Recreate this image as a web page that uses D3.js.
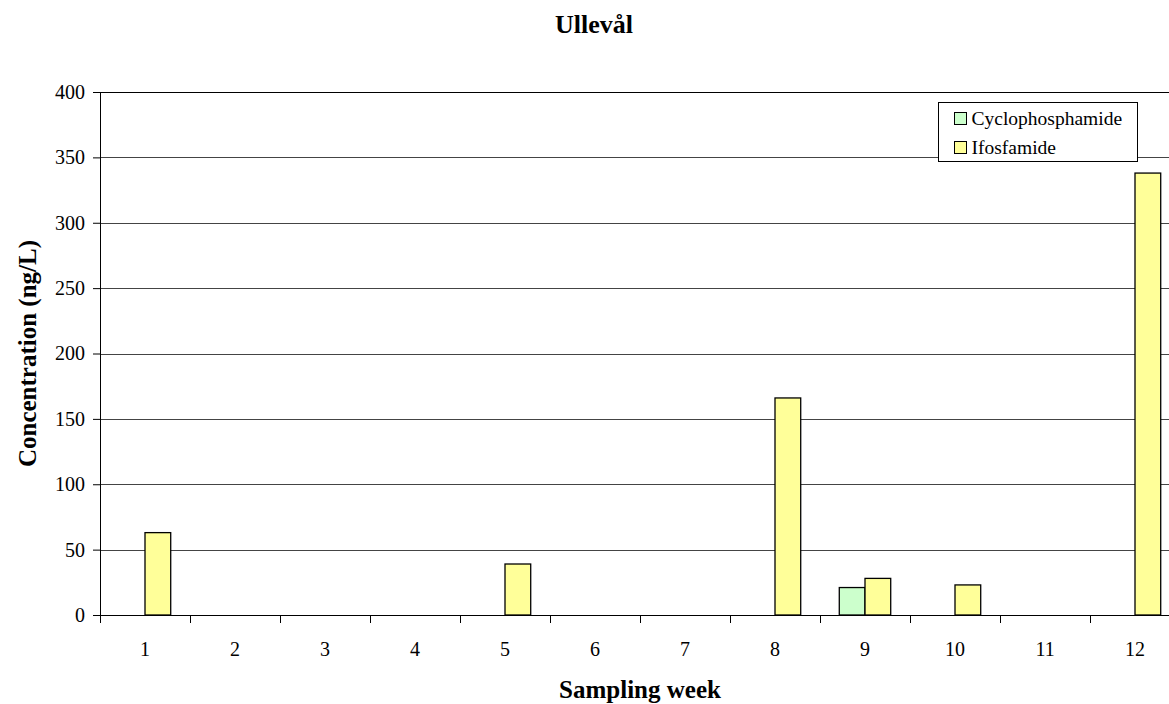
<!DOCTYPE html>
<html>
<head>
<meta charset="utf-8">
<script src="https://cdnjs.cloudflare.com/ajax/libs/d3/7.8.5/d3.min.js"></script>
<style>
  body { margin: 0; background: #fff; }
  svg { display: block; font-family: "Liberation Serif", "Times New Roman", serif; }
</style>
</head>
<body>
<script>
// data
var weeks = ['1', '2', '3', '4', '5', '6', '7', '8', '9', '10', '11', '12'];
var seriesNames = ['Cyclophosphamide', 'Ifosfamide'];
var cyclophosphamide = [0, 0, 0, 0, 0, 0, 0, 0, 21, 0, 0, 0];
var ifosfamide = [63, 0, 0, 0, 39, 0, 0, 166, 28, 23, 0, 338];
var yTicks = [0, 50, 100, 150, 200, 250, 300, 350, 400];
var colors = ['#ccffcc', '#ffff99'];

// set the dimensions and margins of the graph
var margin = {top: 92, right: -11, bottom: 89, left: 100},
    width = 1169 - margin.left - margin.right,
    height = 704 - margin.top - margin.bottom;

var svg = d3.select('body').append('svg')
    .attr('width', 1169)
    .attr('height', 704);

var g = svg.append('g')
    .attr('transform', 'translate(' + margin.left + ',' + margin.top + ')');

// scales
var x = d3.scaleBand().domain(weeks).range([0, width]);
var y = d3.scaleLinear().domain([0, 400]).range([height, 0]);
var barW = x.bandwidth() / 3.5;
var xs = d3.scaleBand().domain(seriesNames).range([x.bandwidth() / 2 - barW, x.bandwidth() / 2 + barW]);

// gridlines
g.append('g')
    .selectAll('line')
    .data(yTicks.slice(1))
    .join('line')
    .attr('x1', 0)
    .attr('x2', width)
    .attr('y1', function(d) { return Math.round(y(d)) + 0.5; })
    .attr('y2', function(d) { return Math.round(y(d)) + 0.5; })
    .style('stroke', '#444')
    .style('stroke-width', 1);

// bars
var rows = [cyclophosphamide, ifosfamide];
for (let s = 0; s < seriesNames.length; s++) {
    g.append('g')
        .selectAll('rect')
        .data(weeks.map(function(w, i) { return {week: w, value: rows[s][i]}; })
            .filter(function(d) { return d.value > 0; }))
        .join('rect')
        .attr('x', function(d) { return x(d.week) + xs(seriesNames[s]); })
        .attr('y', function(d) { return y(d.value); })
        .attr('width', xs.bandwidth())
        .attr('height', function(d) { return height - y(d.value); })
        .style('fill', colors[s])
        .style('stroke', '#000')
        .style('stroke-width', 1.3);
}

// Y axis
var yAxis = g.append('g')
    .call(d3.axisLeft(y).tickValues(yTicks).tickSize(7).tickPadding(8));
yAxis.selectAll('text').attr('font-size', '20px').attr('fill', '#000').attr('font-family', 'Liberation Serif');
yAxis.select('.domain').attr('d', 'M0.5,0V' + height);

// X axis, ticks between categories
var xAxis = g.append('g')
    .attr('transform', 'translate(0,' + height + ')')
    .call(d3.axisBottom(x).tickSize(0).tickPadding(27));
xAxis.selectAll('text').attr('font-size', '20px').attr('fill', '#000').attr('font-family', 'Liberation Serif');
xAxis.select('.domain').attr('d', 'M0,0.5H' + width);
xAxis.selectAll('.sep')
    .data(weeks)
    .join('line')
    .attr('class', 'sep')
    .attr('x1', function(d) { return Math.round(x(d)) + 0.5; })
    .attr('x2', function(d) { return Math.round(x(d)) + 0.5; })
    .attr('y1', 0)
    .attr('y2', 8)
    .style('stroke', '#000');

// top border
g.append('line')
    .attr('x1', 0).attr('x2', width)
    .attr('y1', 0.5).attr('y2', 0.5)
    .style('stroke', '#000');

// title
svg.append('text')
    .attr('x', 594)
    .attr('y', 33)
    .attr('text-anchor', 'middle')
    .attr('font-size', '26px')
    .attr('font-weight', 'bold')
    .text('Ullevål');

svg.append('text')
    .attr('x', margin.left + width / 2)
    .attr('y', 698)
    .attr('text-anchor', 'middle')
    .attr('font-size', '25px')
    .attr('font-weight', 'bold')
    .text('Sampling week');

svg.append('text')
    .attr('transform', 'translate(36,' + (margin.top + height / 2) + ') rotate(-90)')
    .attr('text-anchor', 'middle')
    .attr('font-size', '25px')
    .attr('font-weight', 'bold')
    .text('Concentration (ng/L)');

// legend
var legend = svg.append('g').attr('transform', 'translate(938.5,102.5)');
legend.append('rect')
    .attr('width', 199)
    .attr('height', 59)
    .style('fill', '#fff')
    .style('stroke', '#000');
for (let s = 0; s < seriesNames.length; s++) {
    legend.append('rect')
        .attr('x', 16)
        .attr('y', 10 + s * 29)
        .attr('width', 12)
        .attr('height', 12)
        .style('fill', colors[s])
        .style('stroke', '#000');
    legend.append('text')
        .attr('x', 33)
        .attr('y', 22 + s * 29)
        .attr('font-size', '19.5px')
        .text(seriesNames[s]);
}
</script>
</body>
</html>
